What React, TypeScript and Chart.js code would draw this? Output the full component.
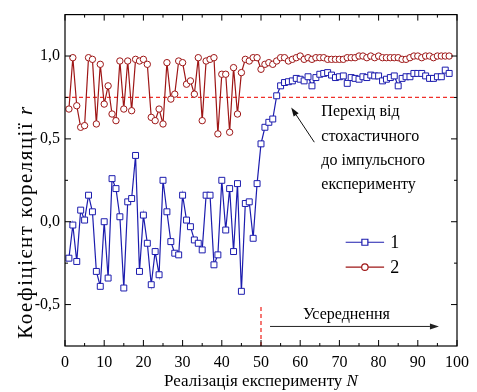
import { useEffect, useRef } from "react";
import { Chart, registerables } from "chart.js";

Chart.register(...registerables);

// Realisation numbers N
const N: number[] = Array.from({ length: 98 }, (_, i) => i + 1);

// Series 1 (blue squares)
const series1: number[] = [
  -0.22, -0.02, -0.24, 0.07, 0.01, 0.16, 0.06, -0.30, -0.39, 0.00,
  -0.34, 0.26, 0.20, 0.03, -0.40, 0.12, 0.14, 0.40, -0.30, 0.04,
  -0.13, -0.38, -0.18, -0.32, 0.25, 0.06, -0.12, -0.19, -0.20, 0.16,
  0.01, -0.03, -0.11, -0.13, -0.17, 0.16, 0.16, -0.26, -0.20, 0.25,
  -0.05, 0.20, -0.18, 0.23, -0.42, 0.11, 0.12, -0.10, 0.23, 0.47,
  0.57, 0.60, 0.62, 0.76, 0.82, 0.84, 0.845, 0.85, 0.865, 0.86,
  0.85, 0.875, 0.82, 0.87, 0.89, 0.895, 0.90, 0.885, 0.87, 0.875,
  0.88, 0.835, 0.87, 0.865, 0.86, 0.875, 0.87, 0.885, 0.88, 0.88,
  0.85, 0.86, 0.87, 0.88, 0.82, 0.865, 0.875, 0.875, 0.895, 0.895,
  0.895, 0.88, 0.865, 0.865, 0.875, 0.875, 0.915, 0.895,
];

// Series 2 (red circles)
const series2: number[] = [
  0.68, 0.99, 0.70, 0.57, 0.58, 0.99, 0.98, 0.59, 0.95, 0.71,
  0.82, 0.65, 0.61, 0.97, 0.68, 0.97, 0.67, 0.98, 0.97, 0.98,
  0.95, 0.63, 0.61, 0.68, 0.59, 0.96, 0.74, 0.77, 0.97, 0.96,
  0.83, 0.85, 0.77, 0.99, 0.61, 0.97, 0.98, 0.99, 0.53, 0.89,
  0.89, 0.54, 0.93, 0.65, 0.90, 0.98, 0.97, 0.99, 0.99, 0.92,
  0.95, 0.96, 0.95, 0.97, 0.99, 0.99, 0.97, 0.98, 0.99, 1.00,
  0.98, 0.99, 0.98, 0.99, 0.99, 0.99, 0.98, 0.98, 0.98, 0.98,
  0.98, 0.99, 0.99, 0.99, 1.00, 1.00, 0.99, 1.00, 0.99, 1.00,
  0.99, 0.99, 0.99, 0.99, 0.99, 0.98, 0.98, 0.99, 1.00, 1.00,
  0.99, 1.00, 1.00, 0.99, 1.00, 1.00, 1.00, 1.00,
];

const seriesLabels: string[] = ["1", "2"];

const xTicks: number[] = [0, 10, 20, 30, 40, 50, 60, 70, 80, 90, 100];
const xMinorTicks: number[] = [5, 15, 25, 35, 45, 55, 65, 75, 85, 95];
const yTicks: number[] = [-0.5, 0, 0.5, 1.0];
const yMinorTicks: number[] = [-0.25, 0.25, 0.75];

const thresholdR = 0.75;
const switchN = 50;

const FONT = "'Liberation Serif', 'Times New Roman', serif";
const BLUE = "#1c1cae";
const RED = "#9e1616";
const DASH_RED = "#f0302a";

function arrow(ctx: CanvasRenderingContext2D, x1: number, y1: number, x2: number, y2: number, head: number, hw: number) {
  const ang = Math.atan2(y2 - y1, x2 - x1);
  const bx = x2 - head * Math.cos(ang);
  const by = y2 - head * Math.sin(ang);
  ctx.beginPath();
  ctx.moveTo(x1, y1);
  ctx.lineTo(bx, by);
  ctx.stroke();
  ctx.beginPath();
  ctx.moveTo(x2, y2);
  ctx.lineTo(bx + hw * Math.sin(ang), by - hw * Math.cos(ang));
  ctx.lineTo(bx - hw * Math.sin(ang), by + hw * Math.cos(ang));
  ctx.closePath();
  ctx.fill();
}

const decoPlugin = {
  id: "deco",
  beforeDatasetsDraw(chart: any) {
    const { ctx, chartArea: a, scales } = chart;
    const xs = scales.x, ys = scales.y;
    ctx.save();
    ctx.strokeStyle = DASH_RED;
    ctx.lineWidth = 1.3;
    ctx.setLineDash([4, 3]);
    const yT = ys.getPixelForValue(thresholdR);
    ctx.beginPath();
    ctx.moveTo(a.left, yT);
    ctx.lineTo(a.right, yT);
    ctx.stroke();
    const xS = xs.getPixelForValue(switchN);
    ctx.beginPath();
    ctx.moveTo(xS, a.bottom);
    ctx.lineTo(xS, ys.getPixelForValue(-0.5) + 2);
    ctx.stroke();
    ctx.restore();
  },
  afterDraw(chart: any) {
    const { ctx, chartArea: a, scales } = chart;
    const xs = scales.x, ys = scales.y;
    ctx.save();
    // frame
    ctx.strokeStyle = "#000";
    ctx.lineWidth = 1.2;
    ctx.strokeRect(a.left, a.top, a.right - a.left, a.bottom - a.top);
    // ticks (inward)
    ctx.lineWidth = 1;
    ctx.beginPath();
    const tx = (v: number, len: number) => {
      const p = xs.getPixelForValue(v);
      ctx.moveTo(p, a.bottom); ctx.lineTo(p, a.bottom - len);
      ctx.moveTo(p, a.top); ctx.lineTo(p, a.top + len);
    };
    const ty = (v: number, len: number) => {
      const p = ys.getPixelForValue(v);
      ctx.moveTo(a.left, p); ctx.lineTo(a.left + len, p);
      ctx.moveTo(a.right, p); ctx.lineTo(a.right - len, p);
    };
    xTicks.forEach((v) => tx(v, 6));
    xMinorTicks.forEach((v) => tx(v, 3));
    yTicks.forEach((v) => ty(v, 6));
    yMinorTicks.forEach((v) => ty(v, 3));
    ctx.stroke();

    // axis titles
    ctx.fillStyle = "#000";
    ctx.textBaseline = "middle";
    const xt1 = "Реалізація експерименту ";
    const xt2 = "N";
    ctx.font = `17px ${FONT}`;
    const w1 = ctx.measureText(xt1).width;
    ctx.font = `italic 17px ${FONT}`;
    const w2 = ctx.measureText(xt2).width;
    const cx = (a.left + a.right) / 2;
    const sx = cx - (w1 + w2) / 2;
    ctx.textAlign = "left";
    ctx.font = `17px ${FONT}`;
    ctx.fillText(xt1, sx, 382);
    ctx.font = `italic 17px ${FONT}`;
    ctx.fillText(xt2, sx + w1, 382);

    const yt1 = "Коефіцієнт кореляції ";
    const yt2 = "r";
    const YF = 21;
    ctx.save();
    (ctx as any).letterSpacing = "1.5px";
    ctx.font = `${YF}px ${FONT}`;
    const v1 = ctx.measureText(yt1).width;
    ctx.font = `italic ${YF}px ${FONT}`;
    const v2 = ctx.measureText(yt2).width;
    ctx.translate(26, 222);
    ctx.rotate(-Math.PI / 2);
    const sy = -(v1 + v2) / 2;
    ctx.font = `${YF}px ${FONT}`;
    ctx.fillText(yt1, sy, 0);
    ctx.font = `italic ${YF}px ${FONT}`;
    ctx.fillText(yt2, sy + v1, 0);
    ctx.restore();

    // annotation text
    ctx.font = `16px ${FONT}`;
    ctx.textAlign = "left";
    const lines = ["Перехід від", "стохастичного", "до імпульсного", "експерименту"];
    const tX = xs.getPixelForValue(65.4);
    lines.forEach((s, i) => ctx.fillText(s, tX, 112 + i * 24.3));

    // arrow to transition
    ctx.strokeStyle = "#111";
    ctx.fillStyle = "#111";
    ctx.lineWidth = 1;
    arrow(ctx, xs.getPixelForValue(63.6), ys.getPixelForValue(0.48), xs.getPixelForValue(57.7), ys.getPixelForValue(0.69), 9, 3);

    // averaging
    ctx.fillStyle = "#000";
    ctx.textAlign = "center";
    ctx.fillText("Усереднення", xs.getPixelForValue(71.8), ys.getPixelForValue(-0.56));
    ctx.strokeStyle = "#222";
    ctx.fillStyle = "#222";
    arrow(ctx, xs.getPixelForValue(52.3), ys.getPixelForValue(-0.632), xs.getPixelForValue(95.4), ys.getPixelForValue(-0.632), 9, 3);

    // legend
    const lx1 = xs.getPixelForValue(71.6), lx2 = xs.getPixelForValue(81.4);
    const ly = [ys.getPixelForValue(-0.124), ys.getPixelForValue(-0.274)];
    const cols = [BLUE, RED];
    ctx.lineWidth = 1.2;
    for (let i = 0; i < 2; i++) {
      ctx.strokeStyle = cols[i];
      ctx.beginPath();
      ctx.moveTo(lx1, ly[i]);
      ctx.lineTo(lx2, ly[i]);
      ctx.stroke();
      const mx = (lx1 + lx2) / 2;
      ctx.fillStyle = "#fff";
      ctx.beginPath();
      if (i === 0) ctx.rect(mx - 3, ly[i] - 3, 6, 6);
      else ctx.arc(mx, ly[i], 3.2, 0, Math.PI * 2);
      ctx.fill();
      ctx.stroke();
      ctx.fillStyle = "#000";
      ctx.textAlign = "left";
      ctx.font = `18px ${FONT}`;
      ctx.fillText(seriesLabels[i], xs.getPixelForValue(83.0), ly[i] + 1);
    }
    ctx.restore();
  },
};

export default function App() {
  const ref = useRef<HTMLCanvasElement | null>(null);
  useEffect(() => {
    if (!ref.current) return;
    const chart = new Chart(ref.current, {
      type: "line",
      data: {
        datasets: [
          {
            label: seriesLabels[0],
            data: N.map((n, i) => ({ x: n, y: series1[i] })),
            borderColor: BLUE,
            backgroundColor: "#fff",
            borderWidth: 1.2,
            pointStyle: "rect",
            pointRadius: 4.2,
            pointBorderWidth: 1,
            pointBackgroundColor: "#fff",
            pointBorderColor: BLUE,
            tension: 0,
            order: 2,
          },
          {
            label: seriesLabels[1],
            data: N.map((n, i) => ({ x: n, y: series2[i] })),
            borderColor: RED,
            backgroundColor: "#fff",
            borderWidth: 1.2,
            pointStyle: "circle",
            pointRadius: 3.2,
            pointBorderWidth: 1,
            pointBackgroundColor: "#fff",
            pointBorderColor: RED,
            tension: 0,
            order: 1,
          },
        ],
      },
      options: {
        animation: false,
        responsive: false,
        maintainAspectRatio: false,
        layout: { padding: { top: 11, right: 20, left: 0, bottom: 0 } },
        plugins: { legend: { display: false }, tooltip: { enabled: false } },
        scales: {
          x: {
            type: "linear",
            min: 0,
            max: 100,
            afterBuildTicks: (s: any) => {
              s.ticks = xTicks.map((v) => ({ value: v }));
            },
            afterFit: (s: any) => {
              s.height = 46;
            },
            grid: { display: false, drawTicks: false },
            border: { display: false },
            ticks: {
              padding: 7,
              color: "#000",
              font: { family: FONT, size: 16 },
              maxRotation: 0,
              autoSkip: false,
              callback: (v: any) => String(v),
            },
          },
          y: {
            type: "linear",
            min: -0.75,
            max: 1.25,
            afterBuildTicks: (s: any) => {
              s.ticks = yTicks.map((v) => ({ value: v }));
            },
            afterFit: (s: any) => {
              s.width = 65;
            },
            grid: { display: false, drawTicks: false },
            border: { display: false },
            ticks: {
              padding: 5,
              color: "#000",
              font: { family: FONT, size: 16 },
              autoSkip: false,
              callback: (v: any) => Number(v).toFixed(1).replace(".", ","),
            },
          },
        },
      },
      plugins: [decoPlugin],
    } as any);
    return () => chart.destroy();
  }, []);
  return (
    <div style={{ position: "fixed", left: 0, top: 0, width: 477, height: 392, background: "#fff" }}>
      <canvas ref={ref} width={477} height={392} style={{ display: "block" }} />
    </div>
  );
}
